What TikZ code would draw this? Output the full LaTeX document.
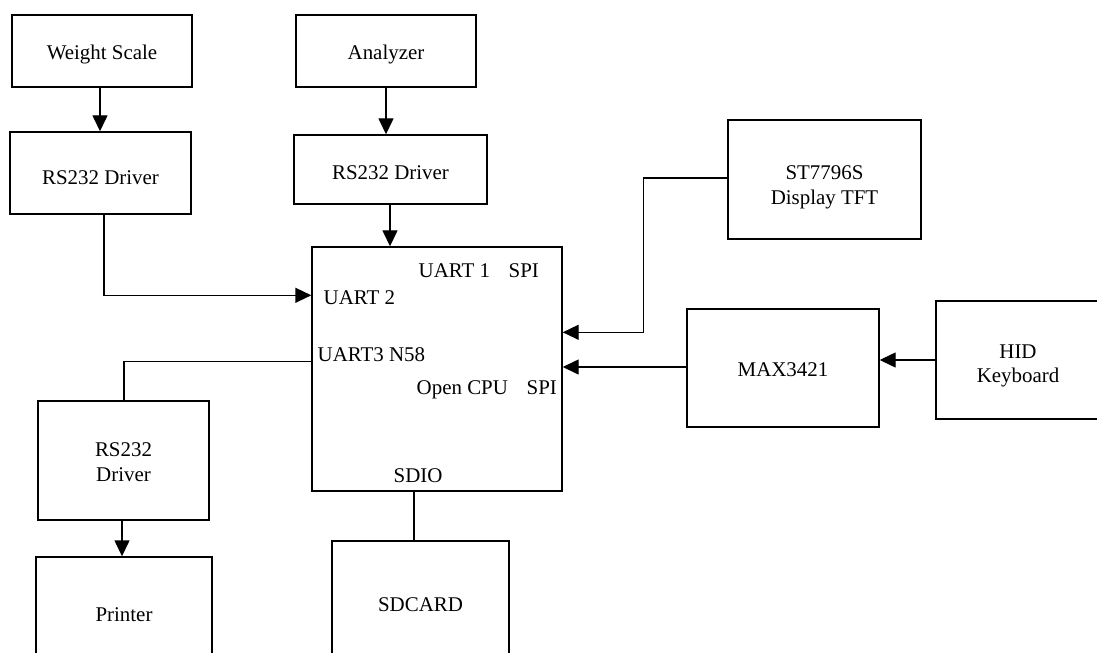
\documentclass[tikz,border=0pt]{standalone}
\usepackage{fontspec}
\setmainfont{Liberation Serif}
\usetikzlibrary{arrows.meta}
\begin{document}
\begin{tikzpicture}[x=1bp,y=-1bp,
  font=\fontsize{21}{24.5}\selectfont,
  line width=1.4bp,
  block/.style={draw=black, rectangle, inner sep=0pt},
  txt/.style={inner sep=0pt, align=center},
  lbl/.style={inner sep=0pt, anchor=base west},
  arr/.style={-{Triangle[length=16bp,width=15bp]}}]
\useasboundingbox (0,0) rectangle (1097,653);

% block outlines
\node[block, minimum width=180bp, minimum height=72bp]  (ws)  at (102,51)      {};
\node[block, minimum width=180bp, minimum height=72bp]  (an)  at (386,51)      {};
\node[block, minimum width=181bp, minimum height=82bp]  (rs1) at (100.5,173)   {};
\node[block, minimum width=193bp, minimum height=69bp]  (rs2) at (390.5,169.5) {};
\node[block, minimum width=250bp, minimum height=244bp] (cpu) at (437,369)     {};
\node[block, minimum width=193bp, minimum height=119bp] (st)  at (824.5,179.5) {};
\node[block, minimum width=192bp, minimum height=118bp] (max) at (783,368)     {};
\node[block, minimum width=164bp, minimum height=118bp] (hid) at (1018,360)    {};
\node[block, minimum width=171bp, minimum height=119bp] (rs3) at (123.5,460.5) {};
\node[block, minimum width=176bp, minimum height=114bp] (pr)  at (124,614)     {};
\node[block, minimum width=177bp, minimum height=126bp] (sd)  at (420.5,604)   {};

% block titles
\node[txt] (ws-t)  at ([yshift=-4bp]ws.center)    {Weight Scale};
\node[txt] (an-t)  at ([yshift=-4bp]an.center)    {Analyzer};
\node[txt] (rs1-t) at ([yshift=-5bp]rs1.center)   {RS232 Driver};
\node[txt] (rs2-t) at ([yshift=-3bp]rs2.center)   {RS232 Driver};
\node[txt] (st-t)  at ([yshift=-8bp]st.center)    {ST7796S\\Display TFT};
\node[txt] (max-t) at ([yshift=-2bp]max.center)   {MAX3421};
\node[txt] (hid-t) at ([yshift=-6bp]hid.center)   {HID\\Keyboard};
\node[txt] (rs3-t) at ([yshift=-1.5bp]rs3.center) {RS232\\Driver};
\node[txt] (pr-t)  at ([yshift=-1bp]pr.center)    {Printer};
\node[txt] (sd-t)  at ([yshift=-1bp]sd.center)    {SDCARD};

% port labels inside the CPU
\node[lbl] (uart1) at (418,277) {UART 1};
\node[lbl] (spi1)  at (508,277) {SPI};
\node[lbl] (uart2) at (323,304) {UART 2};
\node[lbl] (uart3) at (317,361) {UART3 N58};
\node[lbl] (ocpu)  at (416,394) {Open CPU};
\node[lbl] (spi2)  at (526,394) {SPI};
\node[lbl] (sdio)  at (393,482) {SDIO};

% connections
\draw[arr] ([xshift=-2bp]ws.south) -- ([xshift=-2bp]ws.south |- rs1.north);
\draw[arr] (an.south) -- (an.south |- rs2.north);
\draw[arr] ([xshift=-0.5bp]rs2.south) -- ([xshift=-0.5bp]rs2.south |- cpu.north);
\draw[arr] ([xshift=3.5bp]rs1.south) |- ([yshift=-49bp]cpu.north west);
\draw ([xshift=0.5bp]rs3.north) |- ([yshift=-115bp]cpu.north west);
\draw[arr] ([xshift=-1.5bp]rs3.south) -- ([xshift=-1.5bp]rs3.south |- pr.north);
\draw ([xshift=-6.5bp]sd.north) -- ([xshift=-6.5bp]sd.north |- cpu.south);
\draw[arr] ([yshift=1.5bp]st.west) -- ++(-84,0) |- ([yshift=-86bp]cpu.north east);
\draw[arr] ([yshift=1bp]max.west) -- ([yshift=1bp]max.west -| cpu.east);
\draw[arr] (hid.west) -- (hid.west -| max.east);
\end{tikzpicture}
\end{document}
